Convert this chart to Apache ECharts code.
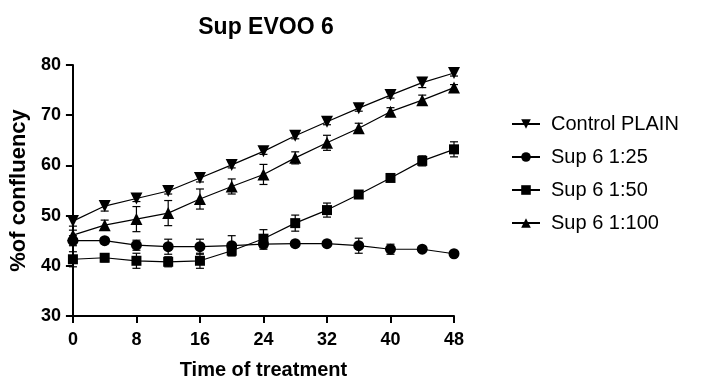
<!DOCTYPE html>
<html>
<head>
<meta charset="utf-8">
<script src="https://cdn.jsdelivr.net/npm/echarts@6/dist/echarts.min.js"></script>
<style>
  html, body { margin: 0; padding: 0; background: #fff; }
  #chart { width: 709px; height: 385px; }
</style>
</head>
<body>
<div id="chart"></div>
<script>
// hours after treatment
var hours = [0, 4, 8, 12, 16, 20, 24, 28, 32, 36, 40, 44, 48];

// mean % confluency
var controlPlain = [48.9, 51.9, 53.4, 54.9, 57.5, 60.1, 62.8, 65.9, 68.7, 71.4, 74.0, 76.5, 78.4];
var sup125 = [45.0, 45.0, 44.1, 43.8, 43.8, 44.0, 44.3, 44.4, 44.4, 44.0, 43.3, 43.3, 42.4];
var sup150 = [41.3, 41.6, 41.0, 40.8, 41.0, 43.0, 45.4, 48.5, 51.1, 54.2, 57.5, 60.9, 63.2];
var sup1100 = [46.1, 48.1, 49.3, 50.5, 53.3, 55.8, 58.2, 61.5, 64.5, 67.4, 70.7, 73.0, 75.5];

// error (SD) per point
var controlErr = [1.0, 1.0, 0.6, 0.6, 0.8, 0.6, 0.6, 0.6, 0.6, 0.6, 0.6, 1.0, 0.6];
var sup125Err = [1.0, 0.6, 1.0, 1.5, 1.5, 2.0, 1.0, 0.5, 0.5, 1.5, 1.0, 0.5, 0.5];
var sup150Err = [1.5, 0.8, 1.5, 1.0, 1.5, 1.0, 1.8, 1.6, 1.4, 0.6, 0.6, 1.0, 1.5];
var sup1100Err = [1.0, 1.0, 2.5, 2.5, 2.0, 1.5, 2.0, 1.2, 1.5, 1.0, 0.8, 1.0, 0.6];

var seriesNames = ['Control PLAIN', 'Sup 6 1:25', 'Sup 6 1:50', 'Sup 6 1:100'];

var font = 'Arial, "Liberation Sans", sans-serif';

function pairs(vals) {
  return hours.map(function (h, i) { return [h, vals[i]]; });
}

function errData(vals, errs) {
  return hours.map(function (h, i) { return [h, vals[i] - errs[i], vals[i] + errs[i]]; });
}

function errorSeries(vals, errs) {
  return {
    type: 'custom',
    silent: true,
    z: 1,
    data: errData(vals, errs),
    renderItem: function (params, api) {
      var lo = api.coord([api.value(0), api.value(1)]);
      var hi = api.coord([api.value(0), api.value(2)]);
      var w = 4;
      var st = { stroke: '#000', lineWidth: 1.2 };
      return {
        type: 'group',
        children: [
          { type: 'line', shape: { x1: lo[0], y1: lo[1], x2: hi[0], y2: hi[1] }, style: st },
          { type: 'line', shape: { x1: lo[0] - w, y1: lo[1], x2: lo[0] + w, y2: lo[1] }, style: st },
          { type: 'line', shape: { x1: hi[0] - w, y1: hi[1], x2: hi[0] + w, y2: hi[1] }, style: st }
        ]
      };
    }
  };
}

function lineSeries(name, vals, symbol, size, rotate) {
  return {
    name: name,
    type: 'line',
    data: pairs(vals),
    symbol: symbol,
    symbolSize: size,
    symbolRotate: rotate || 0,
    showAllSymbol: true,
    z: 3,
    lineStyle: { color: '#000', width: 1.2 },
    itemStyle: { color: '#000', borderWidth: 0 }
  };
}

var myChart = echarts.init(document.getElementById('chart'));
myChart.setOption({
  animation: false,
  title: {
    text: 'Sup EVOO 6',
    left: 261,
    top: 11,
    textAlign: 'center',
    textStyle: { fontFamily: font, fontSize: 23, fontWeight: 'bold', color: '#000' }
  },
  grid: { left: 70, right: 255, top: 65, bottom: 67 },
  legend: {
    data: seriesNames,
    orient: 'vertical',
    left: 506,
    top: 109,
    itemGap: 13,
    itemWidth: 28,
    itemHeight: 12,
    textStyle: { fontFamily: font, fontSize: 20, color: '#000', padding: [0, 0, 0, 6] }
  },
  xAxis: {
    type: 'value',
    min: 0,
    max: 48,
    interval: 8,
    name: 'Time of treatment',
    nameLocation: 'middle',
    nameGap: 44,
    nameTextStyle: { fontFamily: font, fontSize: 20, fontWeight: 'bold', color: '#000' },
    axisLine: { show: true, onZero: false, lineStyle: { color: '#000', width: 2 } },
    axisTick: { show: true, length: 7, lineStyle: { color: '#000', width: 2 } },
    axisLabel: { margin: 15, fontFamily: font, fontSize: 18, fontWeight: 'bold', color: '#000' },
    splitLine: { show: false }
  },
  yAxis: {
    type: 'value',
    min: 30,
    max: 80,
    interval: 10,
    name: '%of confluency',
    nameLocation: 'middle',
    nameGap: 35,
    nameTextStyle: { fontFamily: font, fontSize: 22, fontWeight: 'bold', color: '#000' },
    axisLine: { show: true, onZero: false, lineStyle: { color: '#000', width: 2 } },
    axisTick: { show: true, length: 7, lineStyle: { color: '#000', width: 2 } },
    axisLabel: { margin: 12, fontFamily: font, fontSize: 18, fontWeight: 'bold', color: '#000' },
    splitLine: { show: false }
  },
  series: [
    errorSeries(controlPlain, controlErr),
    errorSeries(sup125, sup125Err),
    errorSeries(sup150, sup150Err),
    errorSeries(sup1100, sup1100Err),
    lineSeries(seriesNames[0], controlPlain, 'triangle', 12, 180),
    lineSeries(seriesNames[1], sup125, 'circle', 11),
    lineSeries(seriesNames[2], sup150, 'rect', 10),
    lineSeries(seriesNames[3], sup1100, 'triangle', 12)
  ]
});
</script>
</body>
</html>
